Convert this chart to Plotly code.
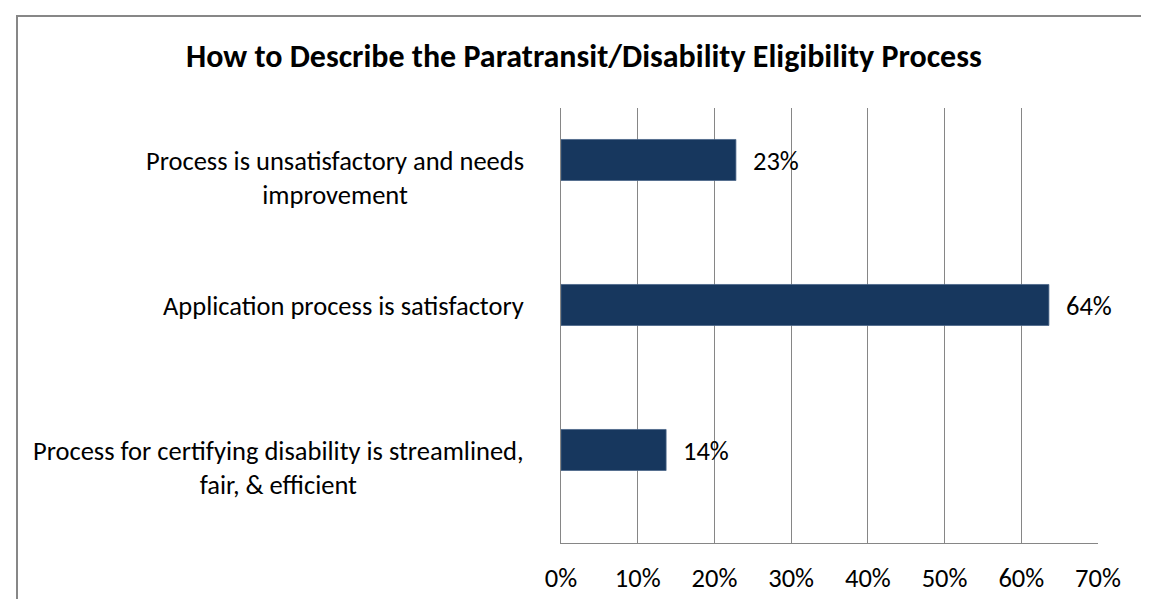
import plotly.graph_objects as go

# categories top to bottom, as they appear in the chart
categories = [
    "Process is unsatisfactory and needs<br>improvement",
    "Application process is satisfactory",
    "Process for certifying disability is streamlined,<br>fair, & efficient",
]
shares = [0.228, 0.636, 0.137]
share_labels = ["23%", "64%", "14%"]

title_text = "How to Describe the Paratransit/Disability Eligibility Process"

FONT = "Carlito, Calibri, Lato, sans-serif"
BAR = "#17375E"
GRID = "#868686"
FS = 26.5

W, H = 1149, 599
L, R, T, B = 553, 59, 100, 64
pw, ph = W - L - R, H - T - B

fig = go.Figure()
fig.add_trace(go.Bar(
    x=shares, y=categories, orientation="h",
    marker=dict(color=BAR, line=dict(color="#4a6688", width=0.8)),
    width=0.283, offset=-0.283,
    hoverinfo="skip",
))

# value labels just right of each bar (bar sits 20px above band centre)
for cat, v, lab in zip(categories, shares, share_labels):
    fig.add_annotation(x=v, y=cat, text=lab, showarrow=False,
                       xanchor="left", yanchor="middle", xshift=15, yshift=20,
                       font=dict(family=FONT, size=FS, color="#000"))

# category labels: lines centred, first line level with the bar
for cat in categories:
    fig.add_annotation(x=0, xref="paper", y=cat, text=cat, showarrow=False,
                       xanchor="right", yanchor="top", align="center",
                       xshift=-35, yshift=20 + 18,
                       font=dict(family=FONT, size=FS, color="#000"))

fig.add_annotation(x=(576 - L) / pw, xref="paper", y=1 + (T - 48) / ph, yref="paper",
                   text="<b>" + title_text + "</b>", showarrow=False,
                   xanchor="center", yanchor="middle",
                   font=dict(family=FONT, size=32, color="#000"))

# outer chart border
fig.add_shape(type="rect", xref="paper", yref="paper",
              xsizemode="pixel", ysizemode="pixel", xanchor=0, yanchor=1,
              x0=9 - L, x1=1143 - L, y0=T - 8, y1=T - 620,
              line=dict(color="#878787", width=2), fillcolor="rgba(0,0,0,0)",
              layer="below")

fig.update_layout(
    width=W, height=H,
    margin=dict(l=L, r=R, t=T, b=B, pad=0),
    paper_bgcolor="white", plot_bgcolor="white",
    showlegend=False,
    font=dict(family=FONT, size=FS, color="#000"),
)
fig.update_xaxes(range=[0, 0.7], dtick=0.1, tickformat=".0%",
                 showgrid=True, gridcolor=GRID, gridwidth=1.4,
                 showline=True, linecolor=GRID, linewidth=1.4,
                 zeroline=False, ticks="", ticklabelstandoff=11,
                 tickfont=dict(family=FONT, size=FS, color="#000"),
                 fixedrange=True)
fig.update_yaxes(autorange="reversed", showticklabels=False,
                 showgrid=False, showline=True, linecolor=GRID, linewidth=1.4,
                 zeroline=False, ticks="", fixedrange=True)

fig.write_html("out.html")
